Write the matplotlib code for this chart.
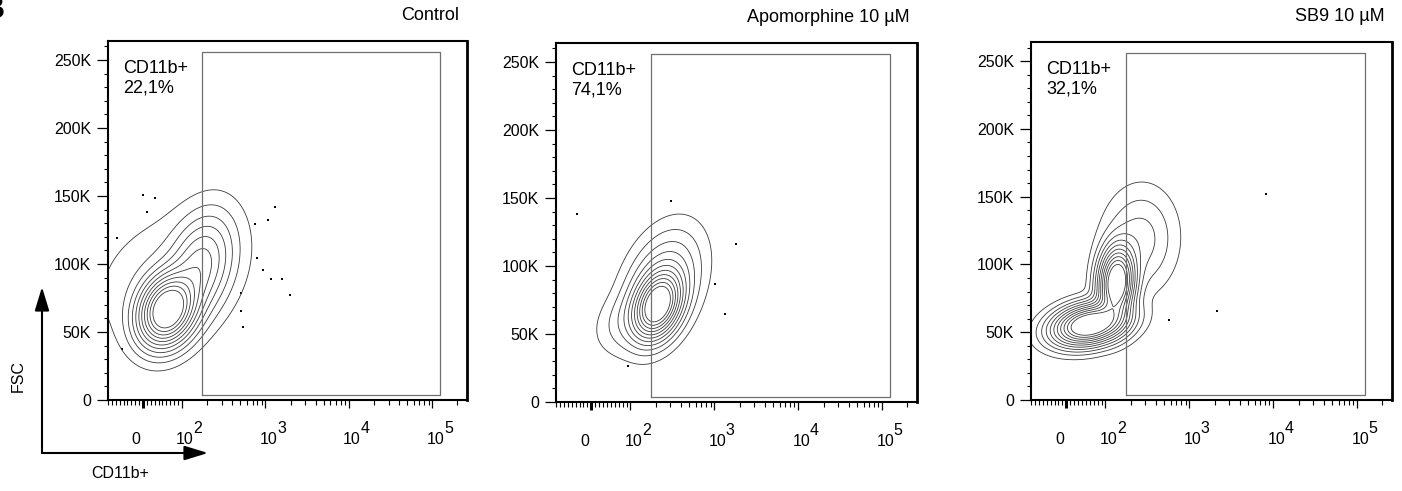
import numpy as np
import matplotlib
matplotlib.use('Agg')
import matplotlib.pyplot as plt
from matplotlib.scale import SymmetricalLogTransform
from matplotlib.patches import FancyArrowPatch
from matplotlib.ticker import FixedLocator, FixedFormatter, MultipleLocator, NullFormatter

plt.rcParams['font.family'] = ['Liberation Sans', 'DejaVu Sans']

# --- Configuration ---
OUT_FILE = 'out.png'
LINTHRESH = 100
LINSCALE = 0.42
X_LIMITS = (-90, 2.6e5)
Y_LIMITS = (0, 264000)

PANEL_TITLES = ['Control', 'Apomorphine 10 µM', 'SB9 10 µM']
GATE_NAME = 'CD11b+'
GATE_PERCENT = ['22,1%', '74,1%', '32,1%']
GATE_X = [175, 1.23e5]
GATE_Y = [3.7e3, 2.56e5]

X_TICKS = [0, 1e2, 1e3, 1e4, 1e5]
X_TICK_BASE = ['0', '10', '10', '10', '10']
X_TICK_EXP = ['', '2', '3', '4', '5']
Y_TICKS = [0, 50e3, 100e3, 150e3, 200e3, 250e3]
Y_TICK_LABELS = ['0', '50K', '100K', '150K', '200K', '250K']

# contour levels as fraction of the peak density
CONTOUR_LEVELS = [0.01, 0.03, 0.06, 0.10, 0.15, 0.21, 0.28, 0.36, 0.45, 0.55, 0.66]

# density blobs (x centre in CD11b+ units, x spread in decades)
CTRL_XC = [62, 165, 69]
CTRL_YC = [66e3, 98e3, 91.8e3]
CTRL_XS = [0.19, 0.22, 0.55]
CTRL_YS = [14.5e3, 21.5e3, 29.6e3]
CTRL_R = [0.2, 0.3, 0.3]
CTRL_W = [1.0, 0.24, 0.03]

APO_XC = [211, 236, 98]
APO_YC = [71e3, 85.8e3, 60e3]
APO_XS = [0.156, 0.25, 0.22]
APO_YS = [13.3e3, 22e3, 13.3e3]
APO_R = [0.3, 0.35, 0.3]
APO_W = [1.0, 0.2, 0.05]

SB9_XC = [59, 136, 256]
SB9_YC = [55.5e3, 86.6e3, 118e3]
SB9_XS = [0.24, 0.12, 0.24]
SB9_YS = [8.5e3, 14.8e3, 21e3]
SB9_R = [0.25, 0.1, 0.05]
SB9_W = [1.0, 0.95, 0.08]

# single events outside the contours
CTRL_DOT_X = [0.8, 30.8, 9.5, -66, 1307, 1067, 752, 788, 944, 1160, 1573, 1978, 511, 511, 535, -55]
CTRL_DOT_Y = [151e3, 148.5e3, 138.6e3, 118.9e3, 141.9e3, 132.5e3, 129.5e3, 104.6e3, 95.5e3,
              89.3e3, 89.3e3, 77.5e3, 78.7e3, 65.1e3, 54e3, 37.5e3]
APO_DOT_X = [308, 1820, 1026, 1343, 93, -37]
APO_DOT_Y = [147.5e3, 116.2e3, 86.4e3, 64.4e3, 26.6e3, 138.2e3]
SB9_DOT_X = [8078, 2130, 570]
SB9_DOT_Y = [152.2e3, 65.9e3, 58.7e3]

XFORM = SymmetricalLogTransform(10, LINTHRESH, LINSCALE)


def to_decades(x):
    return XFORM.transform_non_affine(np.asarray(x, dtype=float)) / LINTHRESH


def from_decades(u):
    return XFORM.inverted().transform_non_affine(np.asarray(u, dtype=float) * LINTHRESH)


def density(xc, yc, xs, ys, corr, weight):
    """Sum of tilted gaussian blobs on a grid in display (decade) units."""
    u = np.linspace(-0.5, 4.0, 600)
    y = np.linspace(0, 270000, 600)
    uu, yy = np.meshgrid(u, y)
    z = np.zeros_like(uu)
    for uc, yc_i, sx, sy, r, w in zip(to_decades(xc), yc, xs, ys, corr, weight):
        du = (uu - uc) / sx
        dy = (yy - yc_i) / sy
        q = (du ** 2 - 2 * r * du * dy + dy ** 2) / (1 - r ** 2)
        z += w * np.exp(-0.5 * q)
    return from_decades(uu), yy, z / z.max()


def draw_panel(ax, title, percent, blobs, dots_x, dots_y):
    ax.set_xscale('symlog', linthresh=LINTHRESH, linscale=LINSCALE)

    xg, yg, z = density(*blobs)
    ax.contour(xg, yg, z, levels=CONTOUR_LEVELS, colors='#3a3a3a', linewidths=0.6)
    ax.scatter(dots_x, dots_y, s=1.5, marker='s', color='black', linewidths=0)

    gx = [GATE_X[0], GATE_X[1], GATE_X[1], GATE_X[0], GATE_X[0]]
    gy = [GATE_Y[0], GATE_Y[0], GATE_Y[1], GATE_Y[1], GATE_Y[0]]
    ax.plot(gx, gy, color='#707070', lw=0.9)

    ax.set_xlim(*X_LIMITS)
    ax.set_ylim(*Y_LIMITS)

    # axis ticks
    ax.xaxis.set_major_locator(FixedLocator(X_TICKS))
    ax.xaxis.set_major_formatter(NullFormatter())
    minor = [v for v in range(-90, 100, 10) if v != 0]
    for d in range(2, 6):
        minor += [k * 10 ** d for k in range(2, 10)]
    ax.xaxis.set_minor_locator(FixedLocator(minor))
    ax.xaxis.set_minor_formatter(NullFormatter())
    ax.yaxis.set_major_locator(FixedLocator(Y_TICKS))
    ax.yaxis.set_major_formatter(FixedFormatter(Y_TICK_LABELS))
    ax.yaxis.set_minor_locator(MultipleLocator(10000))

    ax.tick_params(axis='x', which='major', length=6, width=0.9)
    ax.tick_params(axis='x', which='minor', length=3.5, width=0.8)
    ax.tick_params(axis='y', which='major', length=7.7, width=0.9, pad=4.5, labelsize=11.5)
    ax.tick_params(axis='y', which='minor', length=3, width=0.8)
    ax.xaxis.get_major_ticks()[0].tick1line.set_markeredgewidth(2.2)

    # x labels drawn as base + raised exponent, like the cytometry software does
    for value, base, exp in zip(X_TICKS, X_TICK_BASE, X_TICK_EXP):
        dx = -5.0 if exp == '' else 2.2
        ax.annotate(base, xy=(value, 0), xycoords=('data', 'axes fraction'),
                    xytext=(dx, -31.7), textcoords='offset points',
                    ha='center', va='baseline', fontsize=11.5)
        if exp:
            ax.annotate(exp, xy=(value, 0), xycoords=('data', 'axes fraction'),
                        xytext=(8.3, -23.8), textcoords='offset points',
                        ha='left', va='baseline', fontsize=11.5)

    for side in ['left', 'bottom', 'top']:
        ax.spines[side].set_linewidth(1.5)
    ax.spines['right'].set_linewidth(2.0)

    ax.text(0.979, 1.072, title, transform=ax.transAxes, ha='right', va='center', fontsize=13)
    ax.text(0.042, 0.948, GATE_NAME + '\n' + percent, transform=ax.transAxes,
            ha='left', va='top', fontsize=13, linespacing=1.2)


def main():
    fig = plt.figure(figsize=(14.02, 4.91), dpi=100)

    positions = [
        [0.0770, 0.1853, 0.2561, 0.7312],
        [0.3966, 0.1813, 0.2575, 0.7312],
        [0.7354, 0.1853, 0.2575, 0.7290],
    ]
    blobs = [
        (CTRL_XC, CTRL_YC, CTRL_XS, CTRL_YS, CTRL_R, CTRL_W),
        (APO_XC, APO_YC, APO_XS, APO_YS, APO_R, APO_W),
        (SB9_XC, SB9_YC, SB9_XS, SB9_YS, SB9_R, SB9_W),
    ]
    dots = [(CTRL_DOT_X, CTRL_DOT_Y), (APO_DOT_X, APO_DOT_Y), (SB9_DOT_X, SB9_DOT_Y)]

    for i in range(3):
        ax = fig.add_axes(positions[i])
        draw_panel(ax, PANEL_TITLES[i], GATE_PERCENT[i], blobs[i], *dots[i])

    # axis key arrows in the lower left corner
    corner = (42 / 1402, 1 - 453 / 491)
    style = '-|>,head_length=0.72,head_width=0.22'
    fig.add_artist(FancyArrowPatch(corner, (42 / 1402, 1 - 287 / 491), transform=fig.transFigure,
                                   arrowstyle=style, mutation_scale=20, lw=1.5, color='black',
                                   shrinkA=0, shrinkB=0))
    fig.add_artist(FancyArrowPatch(corner, (208 / 1402, 1 - 453 / 491), transform=fig.transFigure,
                                   arrowstyle=style, mutation_scale=20, lw=1.5, color='black',
                                   shrinkA=0, shrinkB=0))
    fig.text(18 / 1402, 1 - 376 / 491, 'FSC', rotation=90, ha='center', va='center', fontsize=11.5)
    fig.text(120 / 1402, 1 - 473 / 491, 'CD11b+', ha='center', va='center', fontsize=11.5)

    # panel letter, cut off by the figure edge as in the source figure
    fig.text(5 / 1402, 1 + 5 / 491, 'B', ha='right', va='top', fontsize=22, fontweight='bold')

    fig.savefig(OUT_FILE, dpi=100)


if __name__ == "__main__":
    main()
